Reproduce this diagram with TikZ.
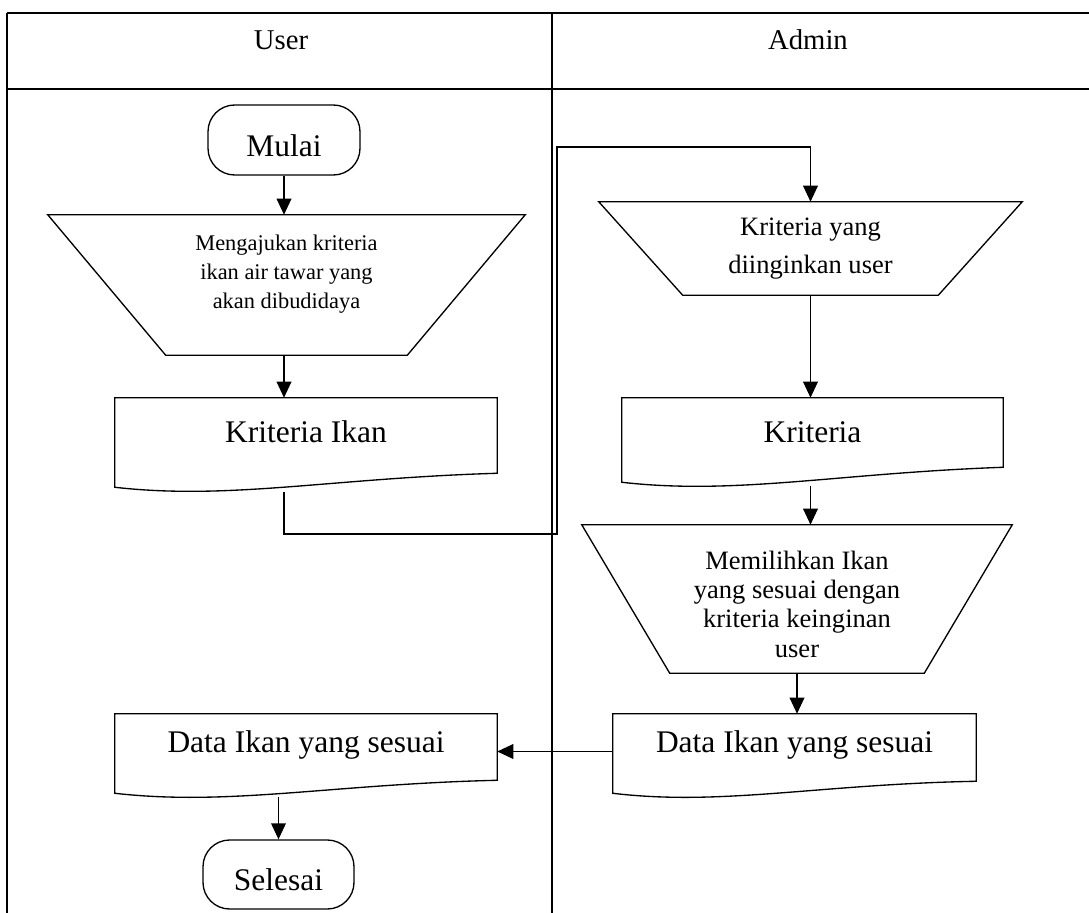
\documentclass[tikz,border=0pt]{standalone}
\usepackage{fontspec}
\setmainfont{Liberation Serif}
\usetikzlibrary{arrows.meta,calc}

% outline of a document symbol: flat top, wavy bottom rising to the right
\newcommand\docoutline[2]{%
  \draw[shapeline] (#1.south west) -- (#1.north west) -- (#1.north east)
    -- ($(#1.south east)+(0,-#2)$)
    .. controls ($(#1.south east)!0.437!(#1.south west)+(0,-9)$)
    and ($(#1.south west)!0.30!(#1.south east)+(0,13)$) .. (#1.south west) -- cycle;}
% outline of a manual-operation symbol: wide top, narrow bottom
\newcommand\trapoutline[2]{%
  \draw[shapeline] (#1.north west) -- (#1.north east)
    -- ($(#1.south east)+(-#2,0)$) -- ($(#1.south west)+(#2,0)$) -- cycle;}

\begin{document}
\begin{tikzpicture}[x=0.75pt,y=-0.75pt,
  lane/.style={line width=1.6pt},
  shapeline/.style={line width=1pt},
  flow/.style={line width=1pt,-{Triangle[length=12pt,width=11pt]}},
  bigtxt/.style={font=\fontsize{23.6}{28}\selectfont},
  headtxt/.style={font=\fontsize{21.5}{24}\selectfont},
  midtxt/.style={font=\fontsize{19.9}{21.8}\selectfont},
  widetxt/.style={font=\fontsize{19.9}{28.5}\selectfont},
  smalltxt/.style={font=\fontsize{16.8}{21.8}\selectfont},
  term/.style={draw,shapeline,rounded corners=20pt,inner sep=0pt},
  box/.style={inner sep=0pt}]
\useasboundingbox (0,0) rectangle (1089,913);

% swimlane table
\draw[lane] (7,13) -- (1089,13);
\draw[lane] (7,89) -- (1089,89);
\draw[lane] (7,13) -- (7,913);
\draw[lane] (552,13) -- (552,913);
\node[headtxt] (huser) at (281,40) {User};
\node[headtxt] (hadmin) at (808,40) {Admin};

% user lane
\node[term,minimum width=114pt,minimum height=52.5pt,
      label={[bigtxt,yshift=-4pt]center:Mulai}] (start) at (284,140) {};
\node[box,minimum width=357.75pt,minimum height=105pt,
      label={[smalltxt,align=center,yshift=8pt]center:Mengajukan kriteria\\ikan air tawar yang\\akan dibudidaya}] (trap1) at (286.5,285) {};
\trapoutline{trap1}{118}
\node[box,minimum width=286.5pt,minimum height=66.75pt,
      label={[bigtxt,yshift=7.9pt]center:Kriteria Ikan}] (doc1) at (306,442.5) {};
\docoutline{doc1}{14}
\node[box,minimum width=286.5pt,minimum height=59.25pt,
      label={[bigtxt,yshift=6.4pt]center:Data Ikan yang sesuai}] (doc4) at (306,753.5) {};
\docoutline{doc4}{13}
\node[term,minimum width=113.25pt,minimum height=51.75pt,
      label={[bigtxt,yshift=-4pt]center:Selesai}] (stop) at (278.5,874.5) {};

% admin lane
\node[box,minimum width=317.25pt,minimum height=69.75pt,
      label={[widetxt,align=center]center:Kriteria yang\\diinginkan user}] (trap2) at (810.5,248.5) {};
\trapoutline{trap2}{84}
\node[box,minimum width=285.75pt,minimum height=63pt,
      label={[bigtxt,yshift=6pt]center:Kriteria}] (doc2) at (812.5,440) {};
\docoutline{doc2}{15}
\node[box,minimum width=322.5pt,minimum height=111pt,
      label={[midtxt,align=center,yshift=-4pt]center:Memilihkan Ikan\\yang sesuai dengan\\kriteria keinginan\\user}] (trap3) at (797,599) {};
\trapoutline{trap3}{88}
\node[box,minimum width=272.25pt,minimum height=59.25pt,
      label={[bigtxt,yshift=6.75pt]center:Data Ikan yang sesuai}] (doc3) at (794.5,753.5) {};
\docoutline{doc3}{12}

% flow connectors
\draw[flow] (start.south) -- (start.south |- trap1.north);
\draw[flow] (start.south |- trap1.south) -- (start.south |- doc1.north);
\draw[flow] ($(doc1.south -| start.south)+(0,5)$) |- (557,534) -- (557,147) -| (trap2.north);
\draw[flow] (trap2.south) -- (trap2.south |- doc2.north);
\draw[flow] ($(doc2.south -| trap2.south)+(0,4)$) -- (trap2.south |- trap3.north);
\draw[flow] (trap3.south) -- (trap3.south |- doc3.north);
\draw[flow] ($(doc3.west)+(0,-2)$) -- ($(doc3.west -| doc4.east)+(0,-2)$);
\draw[flow] ($(doc4.south -| stop.north)+(0,4)$) -- (stop.north);
\end{tikzpicture}
\end{document}
